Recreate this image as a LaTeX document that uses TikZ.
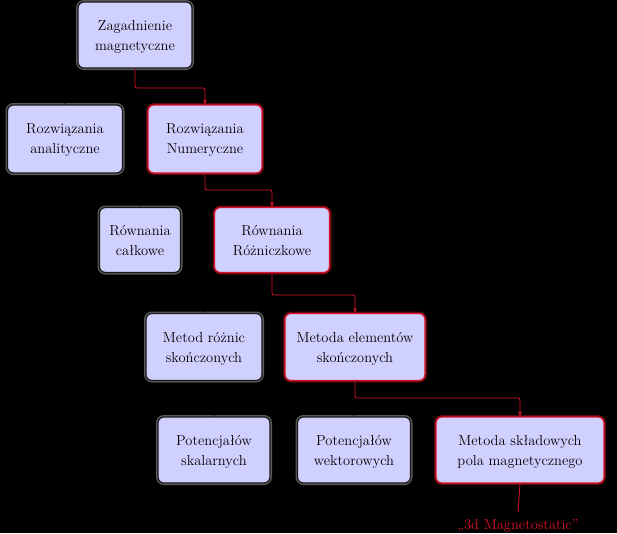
\documentclass[tikz,border=0pt]{standalone}
\usetikzlibrary{arrows.meta}
\definecolor{boxfill}{RGB}{208,208,255}
\definecolor{sel}{RGB}{220,20,40}
\tikzset{
 base/.style={draw, rounded corners=6pt, fill=boxfill, align=center, font=\fontsize{14.5}{20}\selectfont, line width=1.2pt, inner sep=0pt, text depth=0pt},
 plain/.style={base, draw=black!90, preaction={draw=white!40!gray, line width=4pt, opacity=0.5}},
 chosen/.style={base, draw=sel, preaction={draw=sel!70!black, line width=4pt, opacity=0.6}},
 sarr/.style={sel, line width=0.8pt, -{Stealth[length=5pt]}},
 barr/.style={black, line width=0.8pt, -{Stealth[length=5pt]}},
}
\begin{document}
\begin{tikzpicture}[x=1pt,y=-1pt]
\fill[black] (0,0) rectangle (617,533);
\useasboundingbox (0,0) rectangle (617,533);
\node[plain, minimum width=114pt, minimum height=66pt] (z) at (135,35) {Zagadnienie\\magnetyczne};
\node[plain, minimum width=115pt, minimum height=68pt] (ra) at (65,139) {Rozwiązania\\analityczne};
\node[chosen, minimum width=114pt, minimum height=68pt] (rn) at (205,139) {Rozwiązania\\Numeryczne};
\node[plain, minimum width=81pt, minimum height=65pt] (rc) at (140,240) {Równania\\całkowe};
\node[chosen, minimum width=115pt, minimum height=65pt] (rr) at (272,240) {Równania\\Różniczkowe};
\node[plain, minimum width=116pt, minimum height=67pt] (mr) at (204,347) {Metod różnic\\skończonych};
\node[chosen, minimum width=140pt, minimum height=67pt] (me) at (355,347) {Metoda elementów\\skończonych};
\node[plain, minimum width=112pt, minimum height=66pt] (ps) at (214,450) {Potencjałów\\skalarnych};
\node[plain, minimum width=113pt, minimum height=66pt] (pw) at (354,450) {Potencjałów\\wektorowych};
\node[chosen, minimum width=168pt, minimum height=66pt] (ms) at (520,450) {Metoda składowych\\pola magnetycznego};
\node[text=sel, font=\fontsize{14.5}{18}\selectfont, anchor=base] (lab) at (518,529) {„3d Magnetostatic”};
\coordinate (c1) at (135,88);
\coordinate (c2) at (205,190);
\coordinate (c3) at (272,295);
\coordinate (c4) at (355,398);
\coordinate (e) at (518,512);
\draw[barr, rounded corners=2pt] (z.south) |- (c1) -| (ra.north);
\draw[sarr, rounded corners=2pt] (z.south) |- (c1) -| (rn.north);
\draw[barr, rounded corners=2pt] (rn.south) |- (c2) -| (rc.north);
\draw[sarr, rounded corners=2pt] (rn.south) |- (c2) -| (rr.north);
\draw[barr, rounded corners=2pt] (rr.south) |- (c3) -| (mr.north);
\draw[sarr, rounded corners=2pt] (rr.south) |- (c3) -| (me.north);
\draw[barr, rounded corners=2pt] (me.south) |- (c4) -| (ps.north);
\draw[barr, rounded corners=2pt] (me.south) |- (c4) -| (pw.north);
\draw[sarr, rounded corners=2pt] (me.south) |- (c4) -| (ms.north);
\draw[sel, line width=0.8pt] (ms.south) -- (e);
\end{tikzpicture}
\end{document}
